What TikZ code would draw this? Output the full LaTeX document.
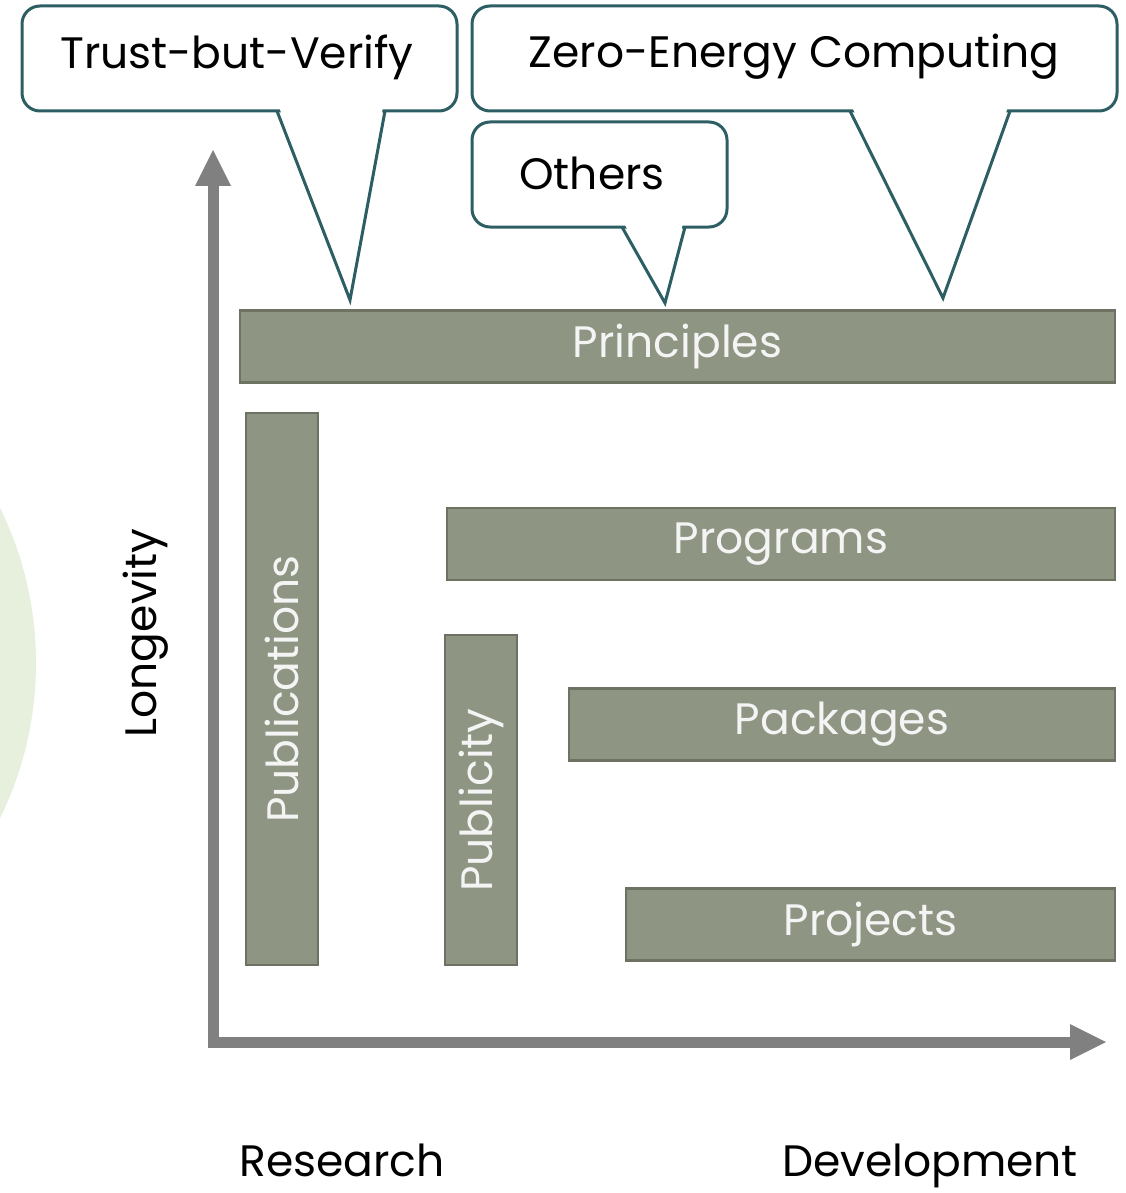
\documentclass[tikz,border=0pt]{standalone}
\usepackage{fontspec}
\setmainfont{Poppins}
\definecolor{barfill}{HTML}{8E9582}
\definecolor{barline}{HTML}{6E7262}
\definecolor{bartext}{HTML}{F4F4F4}
\definecolor{calloutline}{HTML}{2C5E63}
\definecolor{axisgray}{HTML}{808080}
\definecolor{softgreen}{HTML}{E6F0DC}
\begin{document}
\begin{tikzpicture}[x=1pt,y=-1pt,
  big/.style={font=\fontsize{44}{50}\selectfont},
  bar/.style={draw=barline,line width=2.5pt,fill=barfill,inner sep=0pt,
    text=bartext,big},
  calloutbox/.style={draw=calloutline,line width=3pt,fill=white,rounded corners=18pt},
  pointer/.style={draw=calloutline,line width=3pt,line join=miter},
  axis/.style={draw=axisgray,line width=11pt},
  axishead/.style={fill=axisgray}
]
\useasboundingbox (0,0) rectangle (1125,1193);
\begin{scope}
  \clip (0,0) rectangle (1125,1193);
  \fill[softgreen] (-316,663) circle (352pt);
\end{scope}

% axes
\coordinate (org) at (213,1042);
\coordinate (ytip) at (213,150);
\coordinate (xtip) at (1106,1042);
\draw[axis] (213,1047) -- (213,184);
\draw[axis] (208,1042) -- (1072,1042);
\fill[axishead] (ytip) -- (231,186) -- (195,186) -- cycle;
\fill[axishead] (xtip) -- (1070,1024) -- (1070,1060) -- cycle;

% bars
\node[bar,minimum width=875pt,minimum height=72pt] (principles) at (677.5,346.5) {Principles};
\node[bar,minimum width=552pt,minimum height=72pt,rotate=90] (publications) at (282,689) {Publications};
\node[bar,minimum width=668pt,minimum height=72pt] (programs) at (781,544) {Programs};
\node[bar,minimum width=330pt,minimum height=72pt,rotate=90] (publicity) at (481,800) {Publicity};
\node[bar,minimum width=546pt,minimum height=72pt] (packages) at (842,724.5) {Packages};
\node[bar,minimum width=489pt,minimum height=72pt] (projects) at (870.5,924.5) {Projects};

% callouts
\draw[calloutbox] (22,6) rectangle (457,111);
\fill[white] (279,107) -- (350,300) -- (383,107) -- cycle;
\draw[pointer] (277,111) -- (350,300) -- (385,111);
\node[big] (trust) at (237,57) {Trust-but-Verify};

\draw[calloutbox] (472,6) rectangle (1117,111);
\fill[white] (852,107) -- (943,298) -- (1008,107) -- cycle;
\draw[pointer] (850,111) -- (943,298) -- (1010,111);
\node[big] (zero) at (794,57) {Zero-Energy Computing};

\draw[calloutbox] (472,122) rectangle (727,227);
\fill[white] (624,223) -- (665,303) -- (683,223) -- cycle;
\draw[pointer] (622,227) -- (665,303) -- (685,227);
\node[big] (others) at (592,173) {Others};

% axis labels
\node[big,rotate=90] (longevity) at (146,633) {Longevity};
\node[big,anchor=base,inner sep=0pt] (research) at (342,1176) {Research};
\node[big,anchor=base,inner sep=0pt] (development) at (930,1176) {Development};
\end{tikzpicture}
\end{document}
